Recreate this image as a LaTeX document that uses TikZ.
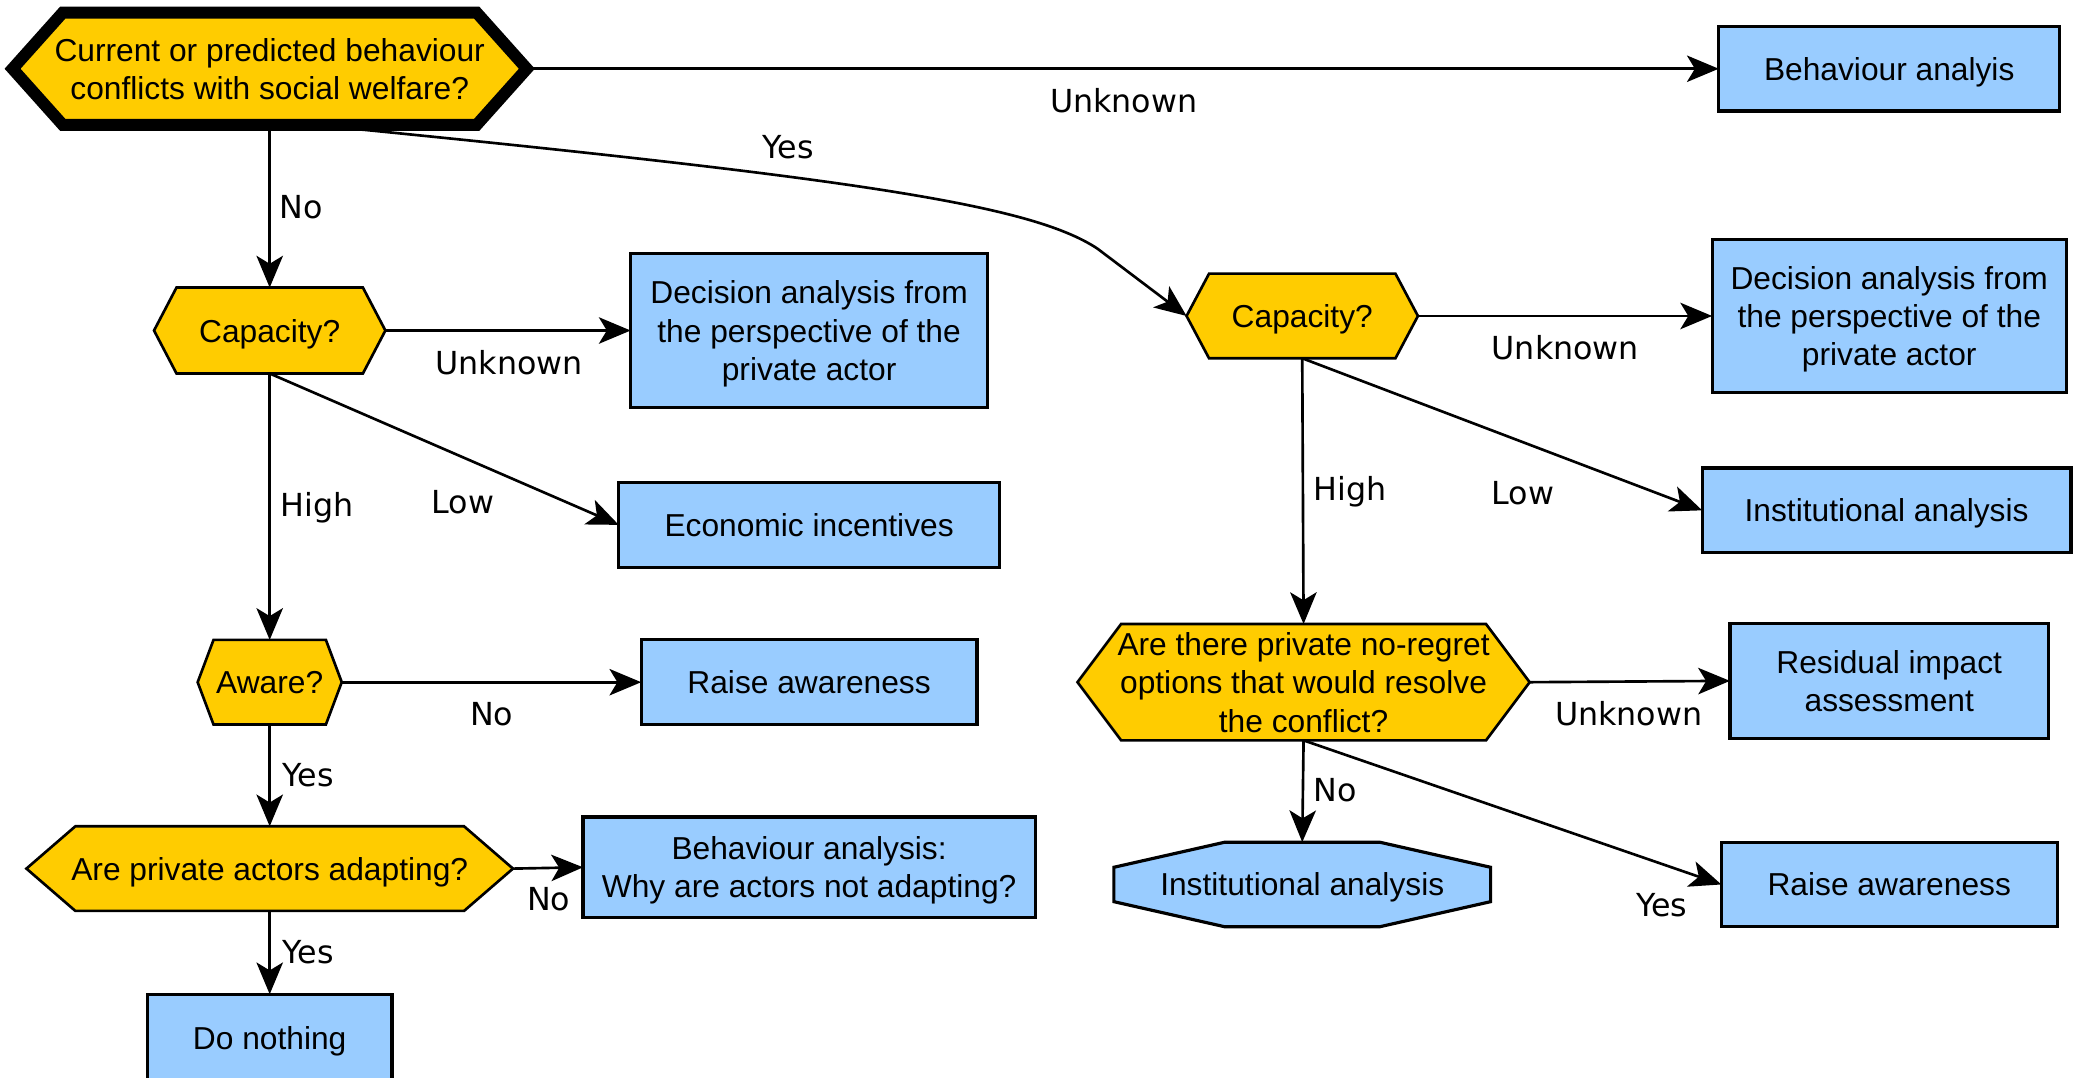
\documentclass[tikz,border=0pt]{standalone}
\usepackage{fontspec}
\setmainfont{Liberation Sans}
\newfontfamily\edgefont{DejaVu Sans}
\usetikzlibrary{arrows.meta,backgrounds}
\definecolor{qyellow}{HTML}{FFCC00}
\definecolor{ablue}{HTML}{99CCFF}

% yellow decision hexagon drawn around a named node: node, inset, line width
\newcommand{\hexshape}[3]{%
  \filldraw[fill=qyellow, draw=black, line width=#3, line join=miter]
    (#1.west) -- ([xshift=#2]#1.north west) -- ([xshift=-#2]#1.north east)
    -- (#1.east) -- ([xshift=-#2]#1.south east) -- ([xshift=#2]#1.south west) -- cycle;}

\begin{document}
\begin{tikzpicture}[x=0.5pt,y=-0.5pt,
  every node/.style={font=\fontsize{12}{14.5}\selectfont, align=center,
    inner sep=0pt, outer sep=0pt},
  actbox/.style={draw=black, fill=ablue, line width=1.2pt, text depth=0pt},
  askbox/.style={text depth=0pt},
  lbl/.style={font=\edgefont\fontsize{12}{14.5}\selectfont},
  arr/.style={-{Stealth[length=12pt,width=10pt,inset=3pt]}, line width=1pt},
]
\useasboundingbox (0,0) rectangle (1568,815);
\clip (0,0) rectangle (1568,815);

% ---- decision nodes (outlines drawn on the background layer) ----
\node[askbox, text depth=-2.5pt, minimum width=194.5pt, minimum height=42.5pt] (h0) at (204,52)
  {Current or predicted behaviour\\conflicts with social welfare?};
\node[askbox, minimum width=87.5pt, minimum height=32.5pt] (c1) at (204,250) {Capacity?};
\node[askbox, minimum width=54.5pt, minimum height=32pt] (aw) at (204,516) {Aware?};
\node[askbox, minimum width=184pt, minimum height=32pt] (ad) at (204,657) {Are private actors adapting?};
\node[askbox, minimum width=87.5pt, minimum height=32pt] (c2) at (985,239) {Capacity?};
\node[askbox, minimum width=171pt, minimum height=44pt] (nr) at (986,516)
  {Are there private no-regret\\options that would resolve\\the conflict?};

% ---- action boxes ----
\node[actbox, minimum width=129pt, minimum height=32pt] (ba) at (1429,52) {Behaviour analyis};
\node[actbox, minimum width=135pt, minimum height=58pt] (da1) at (612,250)
  {Decision analysis from\\the perspective of the\\private actor};
\node[actbox, minimum width=144pt, minimum height=32pt] (ei) at (612,397) {Economic incentives};
\node[actbox, minimum width=127pt, minimum height=32pt] (ra1) at (612,516) {Raise awareness};
\node[actbox, minimum width=171pt, minimum height=38pt] (bw) at (612,656)
  {Behaviour analysis:\\Why are actors not adapting?};
\node[actbox, minimum width=92.5pt, minimum height=33pt] (dn) at (204,785) {Do nothing};
\node[actbox, minimum width=134pt, minimum height=58pt] (da2) at (1429,239)
  {Decision analysis from\\the perspective of the\\private actor};
\node[actbox, minimum width=139.5pt, minimum height=32pt] (ia1) at (1427,386) {Institutional analysis};
\node[actbox, minimum width=120.5pt, minimum height=43.5pt] (ria) at (1429,515)
  {Residual impact\\assessment};
\node[actbox, minimum width=127pt, minimum height=32pt] (ra2) at (1429,669) {Raise awareness};
\node[askbox, minimum width=142.5pt, minimum height=32pt] (ia2) at (985,669) {Institutional analysis};

\begin{scope}[on background layer]
  \hexshape{h0}{19pt}{4.5pt}
  \hexshape{c1}{8.5pt}{1pt}
  \hexshape{aw}{6pt}{1pt}
  \hexshape{ad}{18.5pt}{1pt}
  \hexshape{c2}{8.5pt}{1pt}
  \hexshape{nr}{16.5pt}{1pt}
  % octagonal action box
  \filldraw[fill=ablue, draw=black, line width=1.2pt]
    ([xshift=42pt]ia2.north west) -- ([xshift=-42pt]ia2.north east)
    -- ([yshift=-9.5pt]ia2.north east) -- ([yshift=9.5pt]ia2.south east)
    -- ([xshift=-42pt]ia2.south east) -- ([xshift=42pt]ia2.south west)
    -- ([yshift=9.5pt]ia2.south west) -- ([yshift=-9.5pt]ia2.north west) -- cycle;
\end{scope}

% ---- connectors ----
\coordinate (yesbend) at (830,188);
\draw[arr] (h0.east) -- (ba.west);
\draw[arr] (h0.south) -- (c1.north);
\draw[arr] ([xshift=17pt]h0.south) .. controls (650,135) and (780,155) .. (yesbend) -- (c2.west);

\draw[arr] (c1.east) -- (da1.west);
\draw[arr] (c1.south) -- (ei.west);
\draw[arr] (c1.south) -- (aw.north);
\draw[arr] (aw.east) -- (ra1.west);
\draw[arr] (aw.south) -- (ad.north);
\draw[arr] (ad.east) -- (bw.west);
\draw[arr] (ad.south) -- (dn.north);

\draw[arr] (c2.east) -- (da2.west);
\draw[arr] (c2.south) -- (ia1.west);
\draw[arr] (c2.south) -- (nr.north);
\draw[arr] (nr.east) -- (ria.west);
\draw[arr] (nr.south) -- (ia2.north);
\draw[arr] (nr.south) -- (ra2.west);

% ---- connector labels ----
\node[lbl] (l1) at (850,76) {Unknown};
\node[lbl] (l2) at (596,111) {Yes};
\node[lbl] (l3) at (228,157) {No};
\node[lbl] (l4) at (385,274) {Unknown};
\node[lbl] (l5) at (350,380) {Low};
\node[lbl] (l6) at (240,384) {High};
\node[lbl] (l7) at (372,540) {No};
\node[lbl] (l8) at (233,586) {Yes};
\node[lbl] (l9) at (415,680) {No};
\node[lbl] (l10) at (233,720) {Yes};
\node[lbl] (l11) at (1184,263) {Unknown};
\node[lbl] (l12) at (1152,373) {Low};
\node[lbl] (l13) at (1021,372) {High};
\node[lbl] (l14) at (1232,540) {Unknown};
\node[lbl] (l15) at (1010,598) {No};
\node[lbl] (l16) at (1257,685) {Yes};
\end{tikzpicture}
\end{document}
